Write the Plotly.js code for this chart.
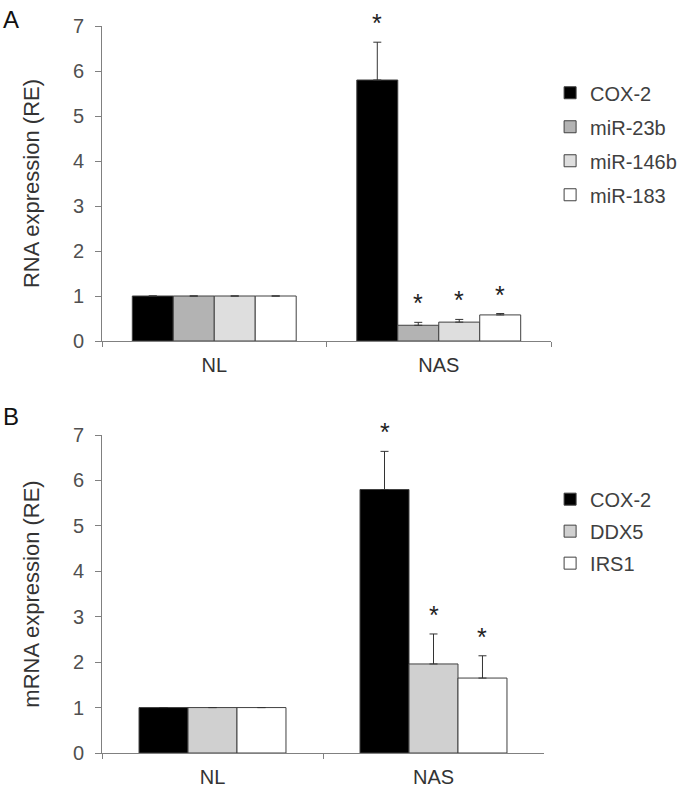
<!DOCTYPE html>
<html>
<head>
<meta charset="utf-8">
<script src="https://cdn.plot.ly/plotly-3.0.1.min.js"></script>
<style>
  html, body { margin: 0; padding: 0; background: #ffffff; }
  #chart { width: 680px; height: 788px; }
</style>
</head>
<body>
<div id="chart"></div>
<script>
// ---------- data ----------
const categories = ['NL', 'NAS'];

// Panel A: RNA expression (RE)
const seriesA = ['COX-2', 'miR-23b', 'miR-146b', 'miR-183'];
const cox2A = [1.0, 5.80];
const cox2AErr = [0, 0.84];
const mir23bA = [1.0, 0.35];
const mir23bAErr = [0, 0.065];
const mir146bA = [1.0, 0.42];
const mir146bAErr = [0, 0.06];
const mir183A = [1.0, 0.58];
const mir183AErr = [0, 0.03];
const sigA = ['', '*'];

// Panel B: mRNA expression (RE)
const seriesB = ['COX-2', 'DDX5', 'IRS1'];
const cox2B = [1.0, 5.80];
const cox2BErr = [0, 0.84];
const ddx5B = [1.0, 1.96];
const ddx5BErr = [0, 0.66];
const irs1B = [1.0, 1.65];
const irs1BErr = [0, 0.49];
const sigB = ['', '*'];

const yTickVals = [0, 1, 2, 3, 4, 5, 6, 7];

// ---------- styles ----------
const FONT = 'Liberation Sans, Arial, sans-serif';
const colorsA = ['#000000', '#b3b3b3', '#dedede', '#ffffff'];
const colorsB = ['#000000', '#d0d0d0', '#ffffff'];
const gapA = 0.27;
const gapB = 0.335;

const valuesA = [cox2A, mir23bA, mir146bA, mir183A];
const errorsA = [cox2AErr, mir23bAErr, mir146bAErr, mir183AErr];
const valuesB = [cox2B, ddx5B, irs1B];
const errorsB = [cox2BErr, ddx5BErr, irs1BErr];

function makeTraces(names, vals, errs, colors, xa, ya, legendId, prefix) {
  return names.map((n, i) => ({
    type: 'bar',
    name: n,
    x: categories,
    y: vals[i],
    xaxis: xa,
    yaxis: ya,
    legend: legendId,
    legendgroup: prefix + i,
    offsetgroup: prefix + i,
    marker: { color: colors[i], line: { color: '#404040', width: 1 } },
    error_y: {
      type: 'data', array: errs[i], symmetric: false,
      arrayminus: errs[i].map(() => 0),
      color: '#333333', thickness: 1, width: 4
    },
    hoverinfo: 'none'
  }));
}

const traces = [
  ...makeTraces(seriesA, valuesA, errorsA, colorsA, 'x', 'y', 'legend', 'a'),
  ...makeTraces(seriesB, valuesB, errorsB, colorsB, 'x2', 'y2', 'legend2', 'b')
];

function starAnnotations(vals, errs, sig, gap, xref, yref) {
  const n = vals.length;
  const w = (1 - gap) / n;
  const out = [];
  vals.forEach((v, i) => {
    v.forEach((val, c) => {
      if (!sig[c]) return;
      out.push({
        xref: xref, yref: yref,
        x: c - (1 - gap) / 2 + w * (i + 0.5),
        y: val + errs[i][c],
        text: sig[c], showarrow: false,
        yanchor: 'bottom', yshift: 3,
        font: { family: FONT, size: 25, color: '#222222' }
      });
    });
  });
  return out;
}

const axisY = (domain, anchor, title) => ({
  domain: domain, anchor: anchor,
  range: [0, 7], tickvals: yTickVals, showgrid: false, zeroline: false,
  showline: true, linecolor: '#808080', linewidth: 1,
  ticks: 'outside', ticklen: 6, tickcolor: '#808080',
  ticklabelstandoff: 7,
  tickfont: { family: FONT, size: 20, color: '#505050' },
  title: { text: title, font: { family: FONT, size: 22, color: '#333333' }, standoff: 27 },
  fixedrange: true
});

const axisX = (domain, anchor) => ({
  domain: domain, anchor: anchor, type: 'category',
  showline: true, linecolor: '#808080', linewidth: 1,
  ticks: 'outside', tickson: 'boundaries', ticklen: 5, tickcolor: '#808080',
  ticklabelstandoff: 6,
  tickfont: { family: FONT, size: 20, color: '#333333' },
  showgrid: false, zeroline: false, fixedrange: true
});

const layout = {
  width: 680, height: 788,
  margin: { l: 102, r: 129, t: 26, b: 35, autoexpand: false },
  paper_bgcolor: '#ffffff', plot_bgcolor: '#ffffff',
  barmode: 'group',
  bargap: gapA,
  bargroupgap: 0,
  xaxis: axisX([0, 1], 'y'),
  yaxis: axisY([0.5667, 1], 'x', 'RNA expression (RE)'),
  xaxis2: axisX([0, 0.9844], 'y2'),
  yaxis2: axisY([0, 0.4374], 'x2', 'mRNA expression (RE)'),
  legend: {
    x: 0.998, xanchor: 'left', y: 0.935, yanchor: 'top',
    font: { family: FONT, size: 20, color: '#404040' },
    tracegroupgap: 5, itemclick: false, itemdoubleclick: false
  },
  legend2: {
    x: 0.998, xanchor: 'left', y: 0.376, yanchor: 'top',
    font: { family: FONT, size: 20, color: '#404040' },
    tracegroupgap: 3, itemclick: false, itemdoubleclick: false
  },
  annotations: [
    ...starAnnotations(valuesA, errorsA, sigA, gapA, 'x', 'y'),
    ...starAnnotations(valuesB, errorsB, sigB, gapB, 'x2', 'y2'),
    { xref: 'paper', yref: 'paper', x: -0.226, y: 1.03, xanchor: 'left', yanchor: 'top',
      text: 'A', showarrow: false, font: { family: FONT, size: 24, color: '#111111' } },
    { xref: 'paper', yref: 'paper', x: -0.226, y: 0.484, xanchor: 'left', yanchor: 'top',
      text: 'B', showarrow: false, font: { family: FONT, size: 24, color: '#111111' } }
  ]
};

// Panel B uses its own bar gap: per-trace width/offset derived from gapB
traces.forEach(t => {
  if (t.xaxis === 'x2') {
    const n = seriesB.length;
    const w = (1 - gapB) / n;
    const idx = seriesB.indexOf(t.name);
    t.width = t.x.map(() => w);
    t.offset = t.x.map(() => -(1 - gapB) / 2 + w * idx);
  }
});

Plotly.newPlot('chart', traces, layout, { staticPlot: true, displayModeBar: false });
</script>
</body>
</html>
